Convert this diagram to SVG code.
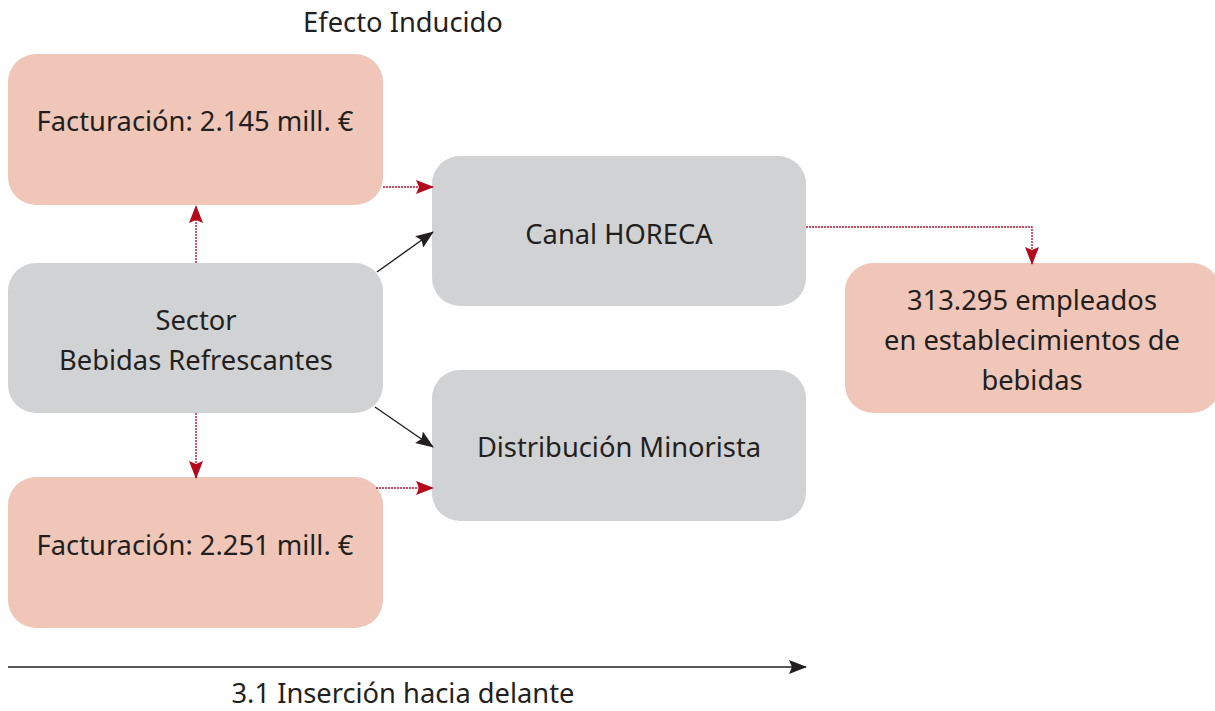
<svg xmlns="http://www.w3.org/2000/svg" width="1215" height="711" viewBox="0 0 1215 711">
<style>
.pink{fill:#efc6b8}
.gray{fill:#d1d2d4}
text{font-family:"Noto Sans","Liberation Sans",sans-serif;font-size:27.3px;fill:#231f20;text-anchor:middle}
.red{stroke:#c8102e;stroke-width:1.4;stroke-dasharray:2 1;fill:none}
.blk{stroke:#231f20;stroke-width:1.4;fill:none}
</style>
<defs>
<marker id="ar" markerWidth="18" markerHeight="14" refX="17" refY="7" orient="auto" markerUnits="userSpaceOnUse">
<path d="M0,0 L18,7 L0,14 L3,7 Z" fill="#b5091c"/>
</marker>
<marker id="ab" markerWidth="18" markerHeight="14" refX="17" refY="7" orient="auto" markerUnits="userSpaceOnUse">
<path d="M0,0 L18,7 L0,14 L3,7 Z" fill="#231f20"/>
</marker>
</defs>
<rect width="1215" height="711" fill="#fff"/>
<text x="403" y="32">Efecto Inducido</text>
<g id="fact-top"><rect class="pink" x="8" y="54" width="375" height="151" rx="28"/><text x="195" y="131">Facturación: 2.145 mill. €</text></g>
<g id="sector"><rect class="gray" x="8" y="263" width="375" height="150" rx="28"/><text x="196" y="330">Sector</text><text x="196" y="370">Bebidas Refrescantes</text></g>
<g id="fact-bottom"><rect class="pink" x="8" y="477" width="375" height="151" rx="28"/><text x="195" y="555">Facturación: 2.251 mill. €</text></g>
<g id="horeca"><rect class="gray" x="432" y="156" width="374" height="150" rx="28"/><text x="619" y="244">Canal HORECA</text></g>
<g id="minorista"><rect class="gray" x="432" y="370" width="374" height="151" rx="28"/><text x="619" y="457">Distribución Minorista</text></g>
<g id="empleados"><rect class="pink" x="845" y="263" width="375" height="150" rx="28"/><text x="1032" y="310">313.295 empleados</text><text x="1032" y="350">en establecimientos de</text><text x="1032" y="390">bebidas</text></g>
<g id="connectors">
<path class="red" d="M196,263 V206" marker-end="url(#ar)"/>
<path class="red" d="M196,413 V478" marker-end="url(#ar)"/>
<path class="red" d="M383,187 H433" marker-end="url(#ar)"/>
<path class="red" d="M376,488 H433" marker-end="url(#ar)"/>
<path class="red" d="M806,227 H1032 V264" marker-end="url(#ar)"/>
<path class="blk" d="M377,272 L433,232" marker-end="url(#ab)"/>
<path class="blk" d="M375,407 L433,447" marker-end="url(#ab)"/>
<path class="blk" d="M8,667 H806" marker-end="url(#ab)"/>
</g>
<text x="403" y="703">3.1 Inserción hacia delante</text>
</svg>
